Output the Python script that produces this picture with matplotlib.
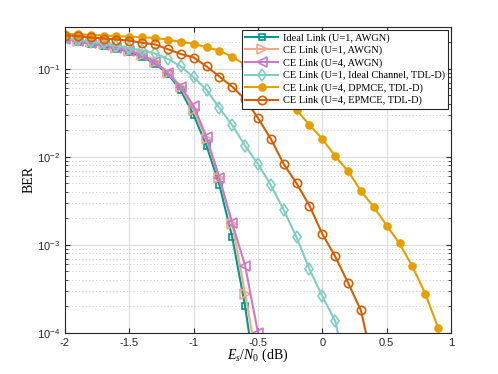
import numpy as np
import matplotlib
matplotlib.use("Agg")
import matplotlib.pyplot as plt
from matplotlib.ticker import LogLocator, NullFormatter, FixedLocator, FuncFormatter

# ---- data ----
x_ideal = [-2.0, -1.9, -1.8, -1.7, -1.6, -1.5, -1.4, -1.3, -1.2, -1.1, -1.0, -0.9, -0.8, -0.7, -0.6, -0.5]
ber_ideal = [0.225, 0.205, 0.194, 0.184, 0.170, 0.156, 0.137, 0.115, 0.088, 0.057, 0.030, 0.0134, 0.0048, 0.00122, 0.00020, 2.0e-5]

x_ce_u1 = [-2.0, -1.9, -1.8, -1.7, -1.6, -1.5, -1.4, -1.3, -1.2, -1.1, -1.0, -0.9, -0.8, -0.7, -0.6, -0.5]
ber_ce_u1 = [0.22, 0.21, 0.20, 0.19, 0.175, 0.16, 0.145, 0.12, 0.09, 0.062, 0.034, 0.0160, 0.0057, 0.00174, 0.00028, 4.2e-5]

x_ce_u4 = [-2.0, -1.9, -1.8, -1.7, -1.6, -1.5, -1.4, -1.3, -1.2, -1.1, -1.0, -0.9, -0.8, -0.7, -0.6, -0.5]
ber_ce_u4 = [0.218, 0.208, 0.198, 0.188, 0.174, 0.160, 0.145, 0.120, 0.090, 0.063, 0.038, 0.0168, 0.0058, 0.00176, 0.00058, 1.0e-4]

x_tdl = [-2.0, -1.9, -1.8, -1.7, -1.6, -1.5, -1.4, -1.3, -1.2, -1.1, -1.0, -0.9, -0.8, -0.7, -0.6, -0.5,
         -0.4, -0.3, -0.2, -0.1, 0.0, 0.1, 0.2]
ber_tdl = [0.225, 0.215, 0.205, 0.195, 0.183, 0.172, 0.163, 0.150, 0.130, 0.107, 0.080, 0.058, 0.036, 0.023, 0.0134, 0.0083,
           0.0048, 0.0025, 0.00122, 0.00053, 0.00026, 0.000137, 3.0e-5]

x_dpmce = [-2.0, -1.9, -1.8, -1.7, -1.6, -1.5, -1.4, -1.3, -1.2, -1.1, -1.0, -0.9, -0.8, -0.7, -0.6, -0.5,
           -0.4, -0.3, -0.2, -0.1, 0.0, 0.1, 0.2, 0.3, 0.4, 0.5, 0.6, 0.7, 0.8, 0.9]
ber_dpmce = [0.25, 0.248, 0.245, 0.240, 0.237, 0.233, 0.230, 0.225, 0.216, 0.203, 0.194, 0.176, 0.162, 0.137, 0.112, 0.087,
             0.066, 0.048, 0.034, 0.0232, 0.0160, 0.0102, 0.0069, 0.0041, 0.0027, 0.00166, 0.00104, 0.00057, 0.00028, 0.000114]

x_epmce = [-2.0, -1.9, -1.8, -1.7, -1.6, -1.5, -1.4, -1.3, -1.2, -1.1, -1.0, -0.9, -0.8, -0.7, -0.6, -0.5,
           -0.4, -0.3, -0.2, -0.1, 0.0, 0.1, 0.2, 0.3, 0.4]
ber_epmce = [0.240, 0.237, 0.228, 0.222, 0.216, 0.210, 0.198, 0.190, 0.168, 0.148, 0.135, 0.107, 0.082, 0.063, 0.045, 0.0277,
             0.016, 0.0083, 0.0050, 0.0028, 0.00133, 0.00074, 0.00037, 0.00018, 4.0e-5]

labels = ["Ideal Link (U=1, AWGN)",
          "CE Link (U=1, AWGN)",
          "CE Link (U=4, AWGN)",
          "CE Link (U=1, Ideal Channel, TDL-D)",
          "CE Link (U=4, DPMCE, TDL-D)",
          "CE Link (U=4, EPMCE, TDL-D)"]

x_ticks = [-2, -1.5, -1, -0.5, 0, 0.5, 1]
x_tick_labels = ["-2", "-1.5", "-1", "-0.5", "0", "0.5", "1"]
y_ticks = [1e-4, 1e-3, 1e-2, 1e-1]

# ---- plot ----
plt.rcParams['font.family'] = ['Liberation Sans', 'DejaVu Sans']
plt.rcParams['mathtext.fontset'] = 'custom'
plt.rcParams['mathtext.rm'] = 'Liberation Serif'
plt.rcParams['mathtext.it'] = 'Liberation Serif:italic'
plt.rcParams['mathtext.sf'] = 'Liberation Sans'

fig = plt.figure(figsize=(4.98, 3.74), dpi=100)
ax = fig.add_axes([0.1305, 0.110, 0.7751, 0.8178])

lw = 1.5
mew = 1.2
ms = 5.0
ax.plot(x_ideal, ber_ideal, color='#00998A', marker='s', mfc='none', mec='#00998A', lw=lw, mew=mew, ms=ms, label=labels[0])
ax.plot(x_ce_u1, ber_ce_u1, color='#F4A889', marker='>', mfc='none', mec='#F4A889', lw=lw, mew=mew, ms=ms + 1.5, label=labels[1])
ax.plot(x_ce_u4, ber_ce_u4, color='#CC79C8', marker='<', mfc='none', mec='#CC79C8', lw=lw, mew=mew, ms=ms + 1.5, label=labels[2])
ax.plot(x_tdl, ber_tdl, color='#80CDC1', marker='d', mfc='none', mec='#80CDC1', lw=lw, mew=mew, ms=ms + 1.5, label=labels[3])
ax.plot(x_dpmce, ber_dpmce, color='#E69F00', marker='o', mfc='#E69F00', mec='#E69F00', lw=lw, mew=mew, ms=ms, label=labels[4])
ax.plot(x_epmce, ber_epmce, color='#D55E00', marker='o', mfc='none', mec='#D55E00', lw=lw, mew=mew, ms=ms + 1, label=labels[5])

ax.set_yscale('log')
ax.set_xlim(-2, 1)
ax.set_ylim(1e-4, 0.3)
ax.set_xticks(x_ticks)
ax.set_xticklabels(x_tick_labels)
ax.yaxis.set_major_locator(FixedLocator(y_ticks))
ax.yaxis.set_major_formatter(FuncFormatter(
    lambda v, p: r'$\mathsf{10^{%d}}$' % int(round(np.log10(v)))))
ax.yaxis.set_minor_locator(LogLocator(base=10, subs=np.arange(2, 10), numticks=20))
ax.yaxis.set_minor_formatter(NullFormatter())

ax.grid(True, which='major', color='#DEDEDE', lw=0.8, ls='-')
ax.grid(True, which='minor', axis='y', color='#C8C8C8', lw=0.7, ls=(0, (1, 2.5)))
ax.set_axisbelow(True)

ax.tick_params(which='both', direction='in', top=True, right=True, labelsize=8, colors='#262626')
ax.tick_params(which='major', length=3.5)
ax.tick_params(which='minor', length=2)
for sp in ax.spines.values():
    sp.set_color('#262626')
    sp.set_linewidth(0.8)

ax.set_xlabel(r'$E_s/N_0$ (dB)', fontsize=10, family='Liberation Serif', labelpad=-1)
ax.set_ylabel('BER', fontsize=10, family='Liberation Serif', labelpad=1)

leg = ax.legend(loc='upper right', prop={'family': 'Liberation Serif', 'size': 7.5},
                frameon=True, fancybox=False, edgecolor='#262626', framealpha=1,
                borderaxespad=0.3, handlelength=3.2, labelspacing=0.28,
                borderpad=0.3, handletextpad=0.4)
leg.get_frame().set_linewidth(0.8)

fig.savefig('out.png', dpi=100)
